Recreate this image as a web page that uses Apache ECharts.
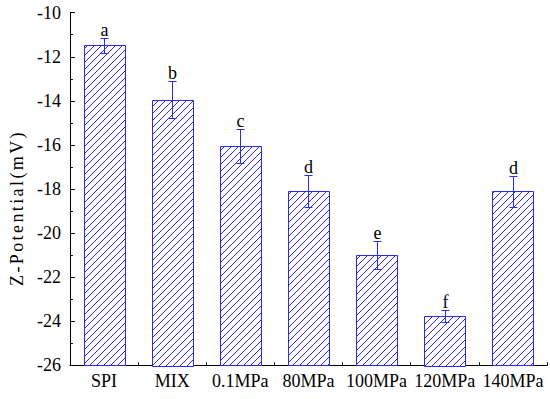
<!DOCTYPE html>
<html><head><meta charset="utf-8">
<script src="https://cdn.jsdelivr.net/npm/echarts@6/dist/echarts.min.js"></script>
<style>html,body{margin:0;padding:0;background:#fff}#c{width:550px;height:399px}</style>
</head><body><div id="c"></div>
<script>
var categories = ['SPI','MIX','0.1MPa','80MPa','100MPa','120MPa','140MPa'];
var values = [-11.48, -13.94, -16.05, -18.09, -21.01, -23.75, -18.1];
var errors = [0.33, 0.84, 0.78, 0.74, 0.64, 0.27, 0.71];
var letters = ['a','b','c','d','e','f','d'];
var yTicks = [-10,-12,-14,-16,-18,-20,-22,-24,-26];
var yMin = -26, yMax = -10;
var yTitle = 'Z-Potential(mV)';

var BLUE = '#2828ff';
var S = 7;
var pc = document.createElement('canvas');
pc.width = S; pc.height = S;
var ctx = pc.getContext('2d');
var img = ctx.createImageData(S, S);
for (var yy = 0; yy < S; yy++) {
  for (var xx = 0; xx < S; xx++) {
    var k = (yy * S + xx) * 4;
    var on = ((xx + yy) % S) === S - 1;
    img.data[k] = on ? 0x28 : 255;
    img.data[k+1] = on ? 0x28 : 255;
    img.data[k+2] = 255;
    img.data[k+3] = 255;
  }
}
ctx.putImageData(img, 0, 0);

var barData = values.map(function(v,i){ return [i, v]; });
var errData = values.map(function(v,i){ return [i, v, errors[i], letters[i]]; });
var font = '"Liberation Serif","Times New Roman",serif';

var chart = echarts.init(document.getElementById('c'), null, {renderer: 'svg'});
chart.setOption({
  animation: false,
  grid: {left: 62, right: 3, top: 12.7, bottom: 33.7, containLabel: false},
  xAxis: [{
    type: 'category', data: categories, boundaryGap: true,
    axisLine: {lineStyle: {color: '#000', width: 1}},
    axisTick: {show: true, inside: true, alignWithLabel: true, length: 5, lineStyle: {color: '#000'}},
    axisLabel: {color: '#000', fontFamily: font, fontSize: 18, margin: 7, interval: 0}
  }, {
    type: 'category', data: categories, boundaryGap: true, position: 'bottom',
    axisLine: {show: false},
    axisTick: {show: true, inside: true, length: 3, lineStyle: {color: '#000'}},
    axisLabel: {show: false}
  }],
  yAxis: {
    type: 'value', min: yMin, max: yMax, interval: 2,
    name: yTitle, nameLocation: 'middle', nameGap: 39,
    nameTextStyle: {color: '#000', fontFamily: font, fontSize: 18, padding: [0, 38, 0, 0]},
    axisLine: {show: true, lineStyle: {color: '#000', width: 1}},
    axisTick: {show: true, inside: true, length: 5, lineStyle: {color: '#000'}},
    minorTick: {show: true, splitNumber: 2, length: 3, lineStyle: {color: '#000'}},
    splitLine: {show: false},
    axisLabel: {color: '#000', fontFamily: font, fontSize: 18, margin: 9,
      formatter: function(v){ return yTicks.indexOf(v) >= 0 ? String(v) : ''; }}
  },
  series: [{
    type: 'custom', data: barData, z: 2,
    renderItem: function(params, api){
      var i = api.value(0), v = api.value(1);
      var topP = api.coord([i, v]);
      var botP = api.coord([i, yMin]);
      var w = api.size([1, 0])[0] * 0.6;
      return {type: 'rect',
        shape: {x: Math.round(topP[0] - w/2) + 0.5, y: Math.round(topP[1]) + 0.5, width: Math.round(w), height: Math.round(botP[1] - topP[1])},
        style: {fill: {image: pc, repeat: 'repeat'}, stroke: BLUE, lineWidth: 1}};
    }
  }, {
    type: 'custom', data: errData, z: 5,
    renderItem: function(params, api){
      var i = api.value(0), v = api.value(1), e = api.value(2);
      var top = api.coord([i, v + e]);
      var bot = api.coord([i, v - e]);
      var x = Math.round(top[0]) + 0.5, hw = 4;
      var st = {stroke: BLUE, lineWidth: 1, fill: null};
      var ty = Math.round(top[1]) + 0.5, by = Math.round(bot[1]) + 0.5;
      return {type: 'group', children: [
        {type: 'line', shape: {x1: x, y1: ty, x2: x, y2: by}, style: st},
        {type: 'line', shape: {x1: x-hw, y1: ty, x2: x+hw, y2: ty}, style: st},
        {type: 'line', shape: {x1: x-hw, y1: by, x2: x+hw, y2: by}, style: st},
        {type: 'text', x: x, y: top[1] + 1, style: {text: errData[params.dataIndex][3], fill: '#000',
          font: '18px ' + font, textAlign: 'center', textVerticalAlign: 'bottom'}}
      ]};
    }
  }]
});
function spaceTitle(){
  var ts = document.querySelectorAll('#c text');
  for (var i = 0; i < ts.length; i++) {
    if (ts[i].textContent === yTitle) ts[i].setAttribute('letter-spacing', '2.4');
  }
}
spaceTitle();
chart.on('finished', spaceTitle);
setTimeout(spaceTitle, 0);
</script></body></html>
